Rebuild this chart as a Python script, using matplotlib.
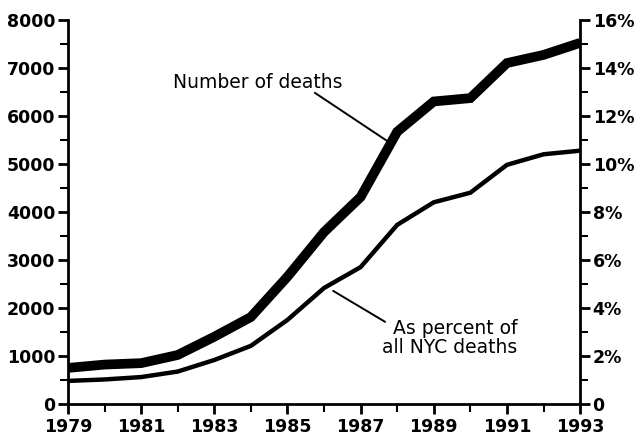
import matplotlib.pyplot as plt
import numpy as np

plt.rcParams['font.family'] = ['DejaVu Sans']

years = np.arange(1979, 1994)
deaths = [750, 820, 850, 1020, 1400, 1810, 2650, 3580, 4310, 5670, 6300, 6370, 7100, 7270, 7520]
percent = [0.96, 1.02, 1.12, 1.35, 1.83, 2.42, 3.5, 4.83, 5.7, 7.46, 8.4, 8.8, 9.96, 10.4, 10.55]

left_ticks = [0, 1000, 2000, 3000, 4000, 5000, 6000, 7000, 8000]
right_ticks = [0, 2, 4, 6, 8, 10, 12, 14, 16]
right_labels = ['0', '2%', '4%', '6%', '8%', '10%', '12%', '14%', '16%']
x_labels = [1979, 1981, 1983, 1985, 1987, 1989, 1991, 1993]

fig = plt.figure(figsize=(6.41, 4.41), dpi=100)
ax = fig.add_axes([0.106, 0.084, 0.799, 0.871])
ax2 = ax.twinx()

ax.plot(years, deaths, color='black', lw=7, solid_joinstyle='miter', solid_capstyle='butt')
ax2.plot(years, percent, color='black', lw=3.2, solid_joinstyle='miter', solid_capstyle='butt')

ax.set_xlim(1979, 1993)
ax.set_ylim(0, 8000)
ax2.set_ylim(0, 16)

ax.set_yticks(left_ticks)
ax.set_yticklabels([str(t) for t in left_ticks])
ax.set_yticks(np.arange(500, 8000, 1000), minor=True)
ax2.set_yticks(right_ticks)
ax2.set_yticklabels(right_labels)
ax2.set_yticks(np.arange(1, 16, 2), minor=True)
ax.set_xticks(years, minor=True)
ax.set_xticks(x_labels)
ax.set_xticklabels([str(y) for y in x_labels])

for a in (ax, ax2):
    a.spines['top'].set_visible(False)
    for s in a.spines.values():
        s.set_linewidth(2)
    a.tick_params(which='major', length=7, width=2, labelsize=12.5, pad=2)
    a.tick_params(which='minor', length=6, width=1.5)
    for lab in a.get_xticklabels() + a.get_yticklabels():
        lab.set_fontweight('bold')
ax.spines['right'].set_visible(False)
ax2.spines['left'].set_visible(False)
ax2.spines['bottom'].set_visible(False)
ax.tick_params(axis='x', pad=3)

# labels with leader lines
ax.text(1984.18, 6690, 'Number of deaths', ha='center', va='center', fontsize=13.5)
ax.annotate('', xy=(1987.8, 5440), xytext=(1985.75, 6480),
            arrowprops=dict(arrowstyle='-', color='black', lw=1.4, shrinkA=0, shrinkB=0))
ax2.text(1991.28, 2.75, 'As percent of\nall NYC deaths', ha='right', va='center',
         fontsize=13.5, linespacing=1.05, multialignment='right')
ax2.annotate('', xy=(1987.67, 3.42), xytext=(1986.25, 4.71),
             arrowprops=dict(arrowstyle='-', color='black', lw=1.4, shrinkA=0, shrinkB=0))

fig.savefig('out.png', dpi=100)
